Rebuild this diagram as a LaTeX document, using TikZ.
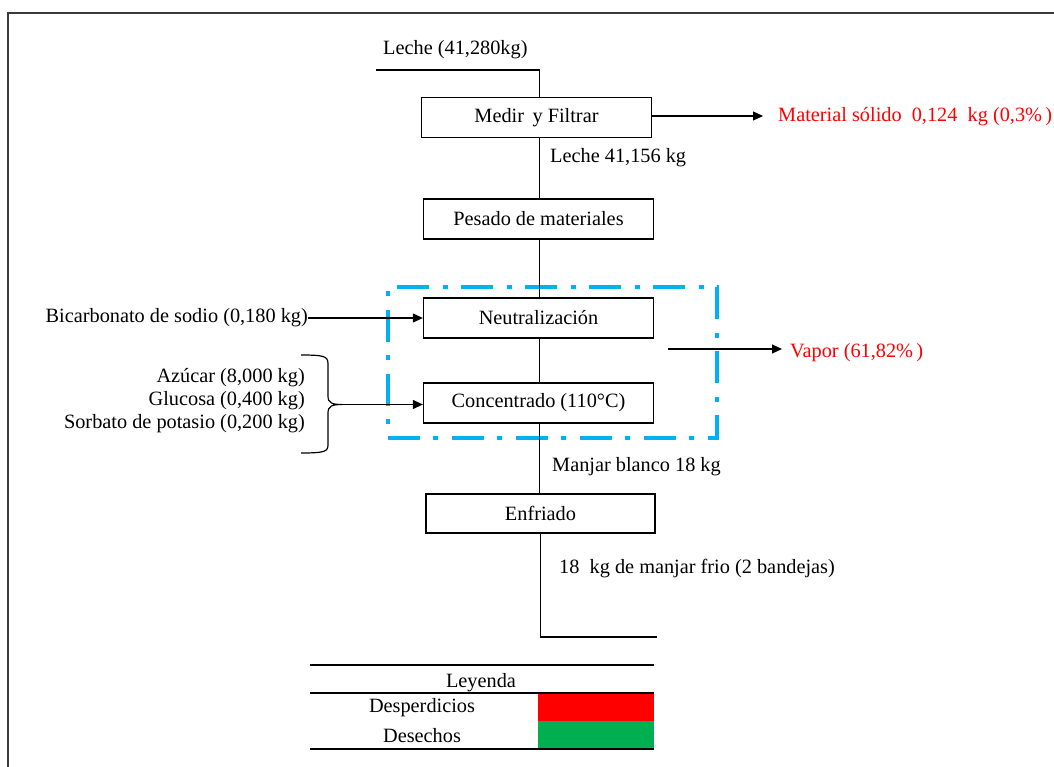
\documentclass[tikz,border=0pt]{standalone}
\usepackage{fontspec}
\setmainfont{Liberation Serif}
\usetikzlibrary{arrows.meta}
\definecolor{frameline}{HTML}{3A3A3A}
\definecolor{loopblue}{HTML}{00B0F0}
\definecolor{waste}{HTML}{FF0000}
\definecolor{refuse}{HTML}{00B050}
\begin{document}
\begin{tikzpicture}[x=1pt,y=-1pt,
  every node/.style={font=\rmfamily\fontsize{20.3}{23}\selectfont, inner sep=0pt},
  procbox/.style={draw, line width=1.3pt, minimum width=230pt, minimum height=40pt},
  flow/.style={line width=1.2pt},
  flowarrow/.style={flow, -{Triangle[length=10pt,width=9pt]}},
  lbl/.style={anchor=west},
  wastelbl/.style={anchor=west, text=waste},
  rule/.style={line width=2pt}]
  \useasboundingbox (0,0) rectangle (1054,767);

  % page frame (open on the right and bottom)
  \draw[frameline, line width=2pt] (8,770) -- (8,13) -- (1060,13);

  % vertical process line
  \coordinate (spine) at (539.5,0);

  % process steps
  \node[procbox] (medir)   at (536.5,117.5) {Medir\ \,y Filtrar};
  \node[procbox] (pesado)  at (538.5,219)   {Pesado de materiales};
  \node[procbox] (neutral) at (538.5,318)   {Neutralización};
  \node[procbox] (conc)    at (538.5,403)   {Concentrado (110°C)};
  \node[procbox, minimum width=229pt, minimum height=39pt] (enfr) at (540.5,513.5) {Enfriado};

  % evaporation zone
  \node[draw=loopblue, line width=4pt, minimum width=329pt, minimum height=151pt,
        dash pattern=on 32pt off 13pt on 5pt off 14pt] (zone) at (552.5,362.5) {};

  % milk inlet
  \coordinate (lin) at (376,70);
  \node[anchor=west] (lechein) at (383,50) {Leche (41,280kg)};
  \draw[flow] (lin) -| (medir.north -| spine);

  % main stream
  \draw[flow] (medir.south -| spine) -- (pesado.north -| spine);
  \node[lbl] (leche2) at (550,158) {Leche 41,156 kg};
  \draw[flow] (pesado.south -| spine) -- (neutral.north -| spine);
  \draw[flow] (neutral.south -| spine) -- (conc.north -| spine);
  \draw[flow] (conc.south -| spine) -- (enfr.north -| spine);
  \node[lbl] (manjar) at (552,467) {Manjar blanco 18 kg};
  \coordinate (outend) at (657,637);
  \draw[flow] ([xshift=1pt]enfr.south -| spine) |- (outend);
  \node[lbl] (frio) at (559,569) {18\ \ kg de manjar frio (2 bandejas)};

  % solid waste
  \coordinate (solid) at (763,116);
  \draw[flowarrow] (medir.east |- solid) -- (solid);
  \node[wastelbl] (solidlbl) at (778,117) {Material sólido\ \ 0,124\ \ kg (0,3\%\,)};

  % vapour
  \coordinate (vapstart) at (668,349);
  \coordinate (vapend) at (782,349);
  \draw[flowarrow] (vapstart) -- (vapend);
  \node[wastelbl] (vaplbl) at (790,353) {Vapor (61,82\%\,)};

  % additives
  \node[anchor=east] (bicarb) at (308,318) {Bicarbonato de sodio (0,180 kg)};
  \draw[flowarrow] (bicarb.east |- neutral.west) -- (neutral.west);

  \node[anchor=east] (azucar)  at (305,378) {Azúcar (8,000 kg)};
  \node[anchor=east] (glucosa) at (305,401) {Glucosa (0,400 kg)};
  \node[anchor=east] (sorbato) at (305,424) {Sorbato de potasio (0,200 kg)};
  % right curly brace gathering the three additives
  \coordinate (btop) at (301,355);
  \coordinate (bbot) at (301,453);
  \coordinate (btip) at (342,404.5);
  \draw[line width=1.2pt]
    (btop) .. controls (328,355) and (328,357) .. (328,366)
    -- (328,396) .. controls (328,403) and (332,404.5) .. (btip)
    .. controls (332,404.5) and (328,406) .. (328,413)
    -- (328,443) .. controls (328,451) and (328,453) .. (bbot);
  \draw[flowarrow] (btip) -- (conc.west |- btip);

  % legend
  \node (leyenda) at (481,683) {Leyenda};
  \node (desp) at (422,708) {Desperdicios};
  \node (dese) at (422,736) {Desechos};
  \fill[waste]  (538,693) rectangle (654,721);
  \fill[refuse] (538,721) rectangle (654,749);
  \draw[rule] (310,665) -- (654,665);
  \draw[rule] (310,693) -- (654,693);
  \draw[rule] (310,749) -- (654,749);
\end{tikzpicture}
\end{document}
